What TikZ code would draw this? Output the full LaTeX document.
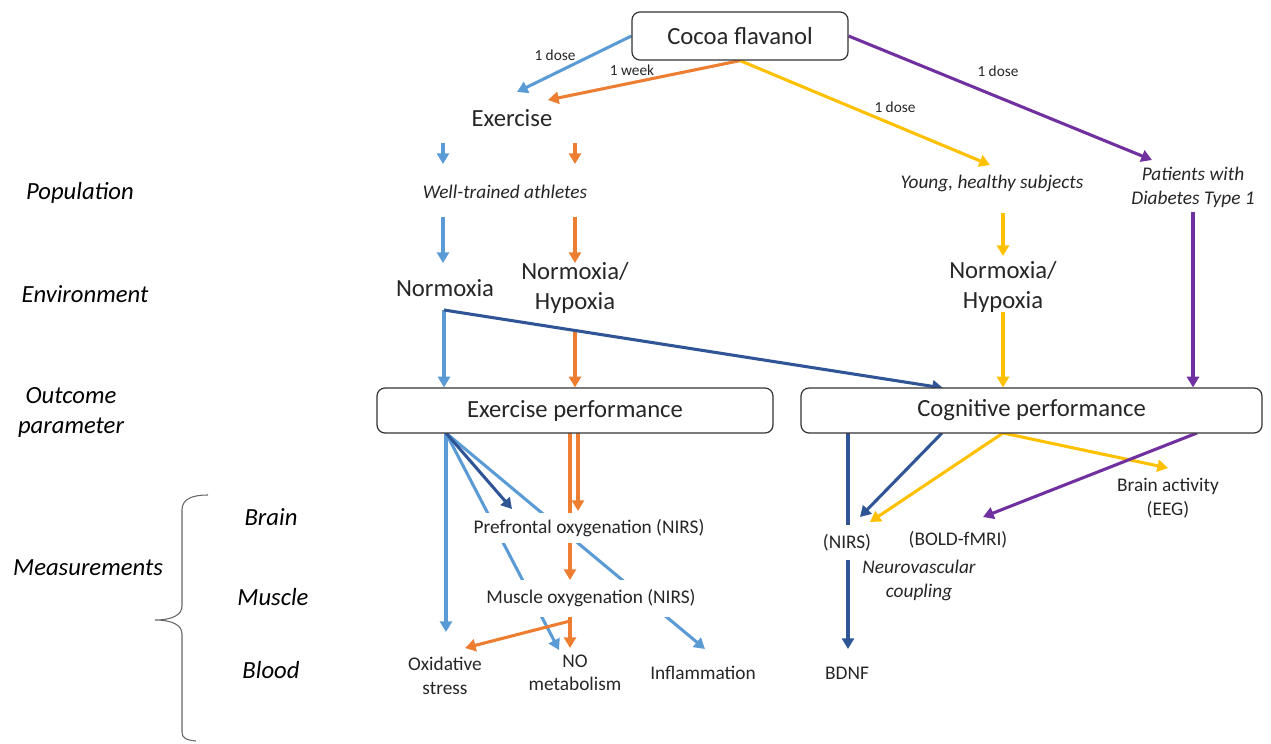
\documentclass[tikz,border=0pt]{standalone}
\usepackage{fontspec}
\setmainfont{Carlito}
\usetikzlibrary{arrows.meta,calc,backgrounds}
\definecolor{lblue}{HTML}{5B9BD5}
\definecolor{orng}{HTML}{ED7D31}
\definecolor{yell}{HTML}{FFC000}
\definecolor{purp}{HTML}{7030A0}
\definecolor{dblue}{HTML}{2F5597}
\definecolor{txt}{HTML}{262626}
\begin{document}
\begin{tikzpicture}[x=0.75pt,y=-0.75pt,
  conn/.style={line width=2.3pt,-{Triangle[length=8pt,width=9pt]}},
  plainline/.style={line width=2.3pt},
  big/.style={font=\fontsize{18.5}{22.5}\selectfont, text=txt, align=center, inner sep=1pt},
  mid/.style={font=\fontsize{14.5}{17.5}\selectfont, text=txt, align=center, inner sep=1pt},
  midit/.style={font=\fontsize{14.5}{18}\selectfont\itshape, text=txt, align=center, inner sep=1pt},
  lbl/.style={font=\fontsize{11.5}{13}\selectfont, text=txt, inner sep=1pt},
  rowlbl/.style={font=\fontsize{18.5}{22.5}\selectfont\itshape, text=black, align=center, inner sep=1pt},
  box/.style={draw=black!80, line width=0.9pt, rounded corners=6pt, fill=white},
  cover/.style={fill=white, inner xsep=2pt}]
\useasboundingbox (0,0) rectangle (1271,743);

% ---------- nodes ----------
\node[box,big,minimum width=162pt,minimum height=36pt] (cocoa) at (740,36) {Cocoa flavanol};
\node[big] (exer) at (512,118) {Exercise};
\node[midit] (athl) at (505,192) {Well-trained athletes};
\node[midit] (young) at (992,183) {Young, healthy subjects};
\node[midit] (pat) at (1193,187) {Patients with\\Diabetes Type 1};
\node[big] (norm) at (445,288) {Normoxia};
\node[big] (nh1) at (575,288) {Normoxia/\\Hypoxia};
\node[big] (nh2) at (1003,287) {Normoxia/\\Hypoxia};
\node[box,big,minimum width=297pt,minimum height=33.75pt] (exp) at (575,410.5) {Exercise performance};
\node[box,big,minimum width=345.75pt,minimum height=33.75pt] (cog) at (1031.5,410.5) {Cognitive performance};

\node[lbl] (l1) at (555,55) {1 dose};
\node[lbl] (l2) at (632,70) {1 week};
\node[lbl] (l3) at (895,107) {1 dose};
\node[lbl] (l4) at (998,71) {1 dose};

\node[rowlbl] (lpop) at (80,193) {Population};
\node[rowlbl] (lenv) at (85,294) {Environment};
\node[rowlbl] (lout) at (71,412) {Outcome\\parameter};
\node[rowlbl] (lmeas) at (88,568) {Measurements};
\node[rowlbl] (lbrain) at (271,517) {Brain};
\node[rowlbl] (lmus) at (273,597) {Muscle};
\node[rowlbl] (lblood) at (271,670) {Blood};

\node[mid,cover,minimum height=22.5pt] (pref) at (589,528) {Prefrontal oxygenation (NIRS)};
\node[mid,cover,minimum height=27.5pt] (musc) at (591,598.5) {Muscle oxygenation (NIRS)};
\node[mid] (oxs) at (445,676) {Oxidative\\stress};
\node[mid] (nom) at (575,673) {NO\\metabolism};
\node[mid] (infl) at (703,673) {Inflammation};
\node[mid] (bdnf) at (847,673) {BDNF};
\node[mid,cover,minimum height=26pt] (nirs) at (847,542.5) {(NIRS)};
\node[mid] (bold) at (958,540) {(BOLD-fMRI)};
\node[midit] (nvc) at (919,580) {Neurovascular\\coupling};
\node[mid] (brain) at (1168,498) {Brain activity\\(EEG)};

% ---------- coordinates for free ends ----------
\coordinate (exA) at (517,92);
\coordinate (exB) at (548,100);
\coordinate (yA) at (990,165);
\coordinate (pA) at (1152,160);
\coordinate (b1s) at (443,143); \coordinate (b1e) at (443,164);
\coordinate (o1s) at (575,143); \coordinate (o1e) at (575,164);
\coordinate (b2s) at (443,217); \coordinate (b2e) at (443,263);
\coordinate (o2s) at (575,217); \coordinate (o2e) at (575,263);
\coordinate (y2s) at (1003,213); \coordinate (y2e) at (1003,256);
\coordinate (p2s) at (1193,212);
\coordinate (nb) at (444,310);
\coordinate (o3s) at (575,330);
\coordinate (y3s) at (1003,312);
\coordinate (dbE) at (943,388);
\coordinate (ebl) at (446,433);
\coordinate (oxT) at (446,632);
\coordinate (noT) at (559,650);
\coordinate (inT) at (705,649);
\coordinate (pfT) at (512,509);
\coordinate (orL) at (570,433);
\coordinate (orLe) at (570,580);
\coordinate (orR) at (578,433);
\coordinate (orRe) at (578,511);
\coordinate (mo) at (570,617);
\coordinate (mo2) at (570,621);
\coordinate (noO) at (570,648);
\coordinate (oxO) at (465,648);
\coordinate (cb1) at (848,433);
\coordinate (cbT) at (848,649);
\coordinate (cb2) at (942,433);
\coordinate (nirsT) at (860,517);
\coordinate (cy) at (1003,433);
\coordinate (nirsY) at (870,522);
\coordinate (eegT) at (1168,468);
\coordinate (cp) at (1197,433);
\coordinate (boldT) at (983,517);

% ---------- connectors ----------
\begin{scope}[on background layer]
\draw[conn,lblue] (cocoa.west) -- (exA);
\draw[conn,orng] (cocoa.south) -- (exB);
\draw[conn,yell] (cocoa.south) -- (yA);
\draw[conn,purp] (cocoa.east) -- (pA);

\draw[conn,lblue] (b1s) -- (b1e);
\draw[conn,orng] (o1s) -- (o1e);
\draw[conn,lblue] (b2s) -- (b2e);
\draw[conn,orng] (o2s) -- (o2e);
\draw[conn,yell] (y2s) -- (y2e);
\draw[conn,purp] (p2s) -- (p2s |- cog.north);

\draw[conn,lblue] (nb) -- (nb |- exp.north);
\draw[conn,orng] (o3s) -- (o3s |- exp.north);
\draw[conn,yell] (y3s) -- (y3s |- cog.north);
\draw[conn,dblue] (nb) -- (dbE);

\draw[conn,lblue] (ebl) -- (oxT);
\draw[conn,lblue] (ebl) -- (noT);
\draw[conn,lblue] (ebl) -- (inT);
\draw[conn,dblue] (ebl) -- (pfT);
\draw[conn,orng] (orL) -- (orLe);
\draw[conn,orng] (orR) -- (orRe);
\draw[conn,orng] (mo) -- (noO);
\draw[conn,orng] (mo2) -- (oxO);

\draw[conn,dblue] (cb1) -- (cbT);
\draw[conn,dblue] (cb2) -- (nirsT);
\draw[conn,yell] (cy) -- (nirsY);
\draw[conn,yell] (cy) -- (eegT);
\draw[conn,purp] (cp) -- (boldT);
\end{scope}

% ---------- brace ----------
\draw[black!60, line width=0.8pt]
  (208,495) .. controls (192,495) and (182,499) .. (182,510)
  -- (182,606) .. controls (182,615) and (172,620) .. (155,620)
  .. controls (172,620) and (182,625) .. (182,634)
  -- (182,732) .. controls (182,738) and (186,740) .. (196,741);
\end{tikzpicture}
\end{document}
